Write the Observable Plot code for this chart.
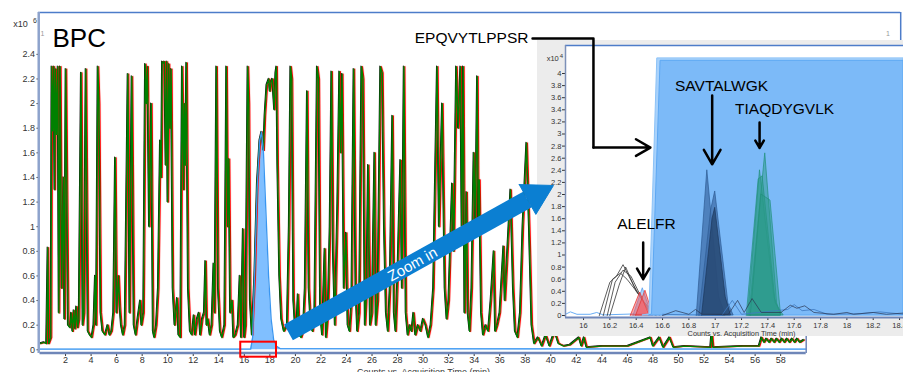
<!DOCTYPE html>
<html>
<head>
<meta charset="utf-8">
<script src="https://cdn.jsdelivr.net/npm/d3@7"></script>
<script src="https://cdn.jsdelivr.net/npm/@observablehq/plot@0.6"></script>
<style>
  html, body { margin: 0; padding: 0; background: white; }
  #wrap { position: relative; width: 903px; height: 372px; overflow: hidden; }
  #wrap svg { position: absolute; }
</style>
</head>
<body>
<div id="wrap"></div>
<script>
// ---------- DATA ----------
const mainXTicks = [2,4,6,8,10,12,14,16,18,20,22,24,26,28,30,32,34,36,38,40,42,44,46,48,50,52,54,56,58];
const mainYTicks = [0,0.2,0.4,0.6,0.8,1,1.2,1.4,1.6,1.8,2,2.2,2.4];
const insetXTicks = [16,16.2,16.4,16.6,16.8,17,17.2,17.4,17.6,17.8,18,18.2,18.4];
const insetYTicks = [0,0.2,0.4,0.6,0.8,1,1.2,1.4,1.6,1.8,2,2.2,2.4,2.6,2.8,3,3.2,3.4,3.6,3.8,4];

// BPC chromatogram (time min, counts x10^6)
const bpcPoints = [
[0,0.05],[0.3,0.06],[0.5,0.05],[0.61,0.83],[0.68,0.05],[0.85,0.1],[0.92,2.3],[1.0,1.78],[1.08,2.3],[1.15,1.3],[1.22,2.28],[1.3,1.75],[1.4,2.3],[1.48,0.3],[1.58,2.3],[1.7,0.5],[1.84,1.4],[1.92,0.25],[2.02,2.28],[2.2,0.2],[2.35,0.18],[2.45,0.3],[2.55,0.15],[2.65,0.32],[2.75,0.17],[2.85,0.35],[2.95,0.18],[3.05,0.25],[3.22,2.25],[3.35,0.2],[3.45,0.3],[3.59,2.28],[3.75,0.15],[3.9,0.12],[4.05,0.1],[4.2,0.2],[4.32,0.6],[4.4,0.2],[4.53,2.3],[4.62,2.0],[4.75,0.3],[4.9,0.15],[5.1,0.12],[5.3,0.2],[5.45,0.12],[5.6,0.15],[5.75,0.3],[5.89,1.56],[6.0,0.3],[6.15,0.6],[6.25,0.35],[6.35,0.2],[6.5,0.12],[6.65,0.2],[6.88,2.24],[7.02,0.3],[7.19,2.22],[7.35,0.2],[7.5,0.12],[7.65,0.25],[7.85,0.4],[7.95,0.2],[8.1,0.3],[8.24,2.32],[8.33,2.0],[8.42,2.3],[8.55,1.0],[8.71,2.0],[8.85,0.15],[8.95,0.1],[9.1,0.2],[9.25,0.5],[9.41,1.7],[9.5,1.4],[9.57,2.34],[9.67,2.33],[9.75,2.34],[9.85,1.5],[9.93,2.34],[10.0,1.2],[10.09,2.32],[10.18,1.8],[10.27,2.28],[10.4,0.5],[10.55,0.2],[10.74,0.42],[10.85,0.12],[11.0,0.1],[11.13,2.3],[11.25,1.3],[11.3,2.0],[11.38,1.5],[11.47,2.33],[11.6,0.5],[11.75,0.15],[11.9,0.12],[12.05,0.28],[12.15,0.12],[12.3,0.25],[12.45,0.3],[12.55,0.12],[12.7,0.25],[12.85,0.3],[12.96,0.72],[13.05,0.2],[13.15,0.25],[13.3,0.12],[13.45,0.2],[13.6,0.7],[13.68,0.3],[13.82,2.3],[13.95,0.5],[14.1,0.15],[14.25,0.1],[14.45,0.2],[14.6,2.3],[14.7,1.0],[14.79,1.55],[14.9,0.3],[15.05,0.4],[15.15,0.1],[15.3,0.12],[15.5,0.2],[15.65,0.6],[15.75,0.1],[15.9,0.98],[16.0,0.1],[16.1,0.2],[16.27,2.3],[16.35,2.0],[16.45,0.4],[16.6,0.12],[16.8,0.6],[17.0,1.35],[17.2,1.7],[17.35,1.77],[17.5,1.62],[17.6,1.9],[17.75,2.15],[17.92,2.2],[18.0,2.1],[18.1,2.18],[18.2,2.2],[18.35,1.95],[18.45,2.25],[18.52,2.3],[18.6,1.5],[18.75,0.6],[18.9,0.25],[19.1,0.15],[19.35,0.2],[19.5,1.0],[19.62,2.3],[19.72,2.2],[19.85,0.4],[20.0,0.15],[20.1,0.2],[20.2,0.45],[20.3,0.12],[20.45,0.1],[20.6,0.15],[20.75,0.5],[20.92,2.1],[21.05,0.5],[21.2,0.2],[21.35,0.15],[21.5,0.3],[21.7,2.3],[21.82,2.2],[21.95,0.3],[22.1,0.12],[22.3,0.82],[22.4,0.1],[22.55,0.3],[22.7,1.0],[22.83,2.26],[22.95,0.8],[23.1,0.2],[23.3,1.2],[23.45,2.26],[23.55,1.6],[23.66,2.24],[23.8,0.5],[23.97,0.95],[24.1,0.2],[24.25,0.15],[24.4,0.4],[24.57,2.28],[24.72,0.5],[24.85,0.15],[25.0,0.3],[25.18,2.3],[25.3,2.2],[25.45,0.2],[25.58,0.5],[25.7,1.5],[25.85,0.2],[26.0,0.3],[26.2,1.6],[26.3,0.2],[26.45,0.4],[26.66,2.3],[26.8,2.25],[26.95,1.0],[27.1,0.3],[27.25,0.15],[27.4,0.5],[27.6,1.9],[27.72,0.3],[27.85,0.15],[28.0,0.6],[28.23,1.54],[28.35,0.5],[28.5,2.3],[28.65,0.3],[28.8,0.12],[28.95,0.2],[29.1,0.15],[29.25,0.3],[29.4,0.12],[29.6,0.2],[29.8,0.15],[30.0,0.25],[30.2,0.2],[30.4,0.1],[30.6,0.2],[30.8,0.5],[31.1,2.3],[31.25,1.0],[31.5,2.0],[31.7,0.5],[31.85,0.25],[32.0,0.4],[32.28,1.35],[32.4,0.8],[32.6,2.3],[32.75,1.8],[32.93,2.3],[33.03,1.0],[33.14,2.3],[33.25,0.3],[33.4,1.28],[33.5,0.3],[33.65,0.15],[33.8,0.5],[33.97,1.6],[34.1,1.0],[34.24,2.22],[34.32,1.0],[34.4,1.38],[34.55,0.3],[34.7,0.12],[34.9,0.2],[35.1,0.15],[35.3,0.4],[35.54,0.8],[35.65,0.15],[35.8,0.2],[36.0,0.3],[36.3,0.84],[36.4,0.4],[36.5,0.6],[36.85,1.3],[37.05,0.5],[37.2,0.15],[37.4,0.1],[37.6,0.3],[37.8,1.0],[38.1,1.68],[38.3,1.0],[38.5,0.2],[38.7,0.05],[39.0,0.1],[39.3,0.03],[39.6,0.12],[39.9,0.03],[40.3,0.15],[40.6,0.05],[41.0,0.03],[41.5,0.04],[42.2,0.1],[42.4,0.03],[42.6,0.1],[42.8,0.02],[44.0,0.03],[46.0,0.03],[47.8,0.1],[48.0,0.03],[48.5,0.1],[48.8,0.02],[49.3,0.1],[49.6,0.02],[50.5,0.03],[52.5,0.02],[52.6,0.15],[52.7,0.02],[55.0,0.03],[56.3,0.03],[56.5,0.1],[56.7,0.06],[56.9,0.09],[57.1,0.06],[57.3,0.09],[57.5,0.06],[57.7,0.09],[57.9,0.06],[58.1,0.09],[58.3,0.06],[58.5,0.09],[58.7,0.06],[58.9,0.09],[59.1,0.06],[59.3,0.09],[59.5,0.06],[59.8,0.08]
];
// EPQVYTLPPSR extracted trace in the main chart
const epqMainPoints = [[0,0.005],[16.5,0.005],[16.65,0.1],[16.8,0.6],[17.0,1.3],[17.2,1.7],[17.35,1.77],[17.5,1.6],[17.7,1.1],[17.9,0.6],[18.1,0.25],[18.3,0.08],[18.5,0.03],[18.8,0.01],[60,0.005]];
const zoomBox = [{x1: 15.72, x2: 18.52, y1: -0.06, y2: 0.062}];

// Inset traces (time min, counts x10^4)
const epqInsetA = [[16.45,0],[16.5,0.02],[16.56,4.25],[18.43,4.25]];
const epqInsetB = [[16.5,0],[16.52,0.02],[16.585,4.21],[18.43,4.21]];
const baselineBlue = [[15.863,0.02],[15.9,0.06],[15.95,0.02],[16.05,0.02],[16.1,0.05],[16.15,0.01],[16.3,0.02],[16.45,0.03],[16.52,0.02]];
const blackTraces = [
  [[16.12,0],[16.2,0.55],[16.25,0.65],[16.3,0.84],[16.38,0.5],[16.5,0.05],[16.55,0]],
  [[16.15,0],[16.22,0.6],[16.28,0.7],[16.33,0.6],[16.42,0.35],[16.52,0]],
  [[16.18,0],[16.24,0.55],[16.3,0.75],[16.36,0.65],[16.45,0.25],[16.55,0]],
  [[16.2,0],[16.27,0.5],[16.32,0.8],[16.4,0.4],[16.5,0.1],[16.58,0]]
];
const alelfrRed = [
  [[16.36,0],[16.43,0.38],[16.5,0]],
  [[16.4,0],[16.47,0.41],[16.53,0]]
];
const alelfrBlue = [[16.38,0],[16.45,0.45],[16.52,0]];
const purplePeak = [[16.5,0],[16.57,0.15],[16.63,0]];
const savtalwgkMid = [
  [[16.86,0],[16.94,2.4],[17.03,0.3],[17.08,0]],
  [[16.88,0],[16.97,1.75],[17.0,2.05],[17.1,0.2],[17.14,0]]
];
const savtalwgkDark = [[16.9,0],[16.98,1.6],[17.0,1.78],[17.08,0.3],[17.12,0]];
const tiaqdygvlk = [
  [[17.26,0],[17.38,2.68],[17.47,0.2],[17.5,0]],
  [[17.25,0],[17.34,2.4],[17.45,0.3],[17.5,0]],
  [[17.24,0],[17.33,2.25],[17.36,2.3],[17.46,0.2],[17.52,0]],
  [[17.27,0],[17.35,2.0],[17.42,1.9],[17.5,0]]
];
const noiseDark = [[16.6,0],[16.7,0.08],[16.8,0.02],[16.85,0.1],[16.9,0.02],[17.1,0.02],[17.17,0.25],[17.22,0.05],[17.28,0.28],[17.35,0.05],[17.5,0.05],[17.57,0.17],[17.62,0.12],[17.68,0.16],[17.75,0.05],[17.9,0.02],[18.0,0.05],[18.05,0.02],[18.2,0.05],[18.3,0.02],[18.43,0.04]];
const noiseBlue = [[16.6,0.02],[17.05,0],[17.13,0.25],[17.2,0.02],[17.55,0.1],[17.6,0.18],[17.66,0.08],[17.75,0.1],[17.85,0.02],[18.1,0.03],[18.25,0.06],[18.43,0.02]];

// Annotations (in chart data units)
const zoomBand = [[19.46,0.141],[38.17,1.221]];
const zoomHead = [[37.53,1.342],[40.21,1.335],[38.83,1.10],[37.53,1.342]];
const epqPath = [[38.57,2.529],[43.34,2.529],[43.34,1.643]];
const epqArrow = [{x1: 43.34, y1: 1.643, x2: 47.8, y2: 1.643}];
const insetLabels = [
  {t: 17.048, v: 3.80, label: "SAVTALWGK"},
  {t: 17.527, v: 3.42, label: "TIAQDYGVLK"},
  {t: 16.478, v: 1.52, label: "ALELFR"}
];
const insetArrows = [
  {x1: 16.977, y1: 3.636, x2: 16.977, y2: 2.50},
  {x1: 17.337, y1: 3.19, x2: 17.337, y2: 2.77},
  {x1: 16.453, y1: 1.207, x2: 16.453, y2: 0.60}
];

// ---------- HELPERS ----------
const pts = a => a.map(([t, v]) => ({t, v}));
const fmt = d => String(Math.round(d * 10) / 10);
const FONT = "Liberation Sans, Arial, Helvetica, sans-serif";
const wrap = document.getElementById("wrap");
const place = (svg, left, top) => { svg.style.left = left + "px"; svg.style.top = top + "px"; wrap.appendChild(svg); };

const bpc = pts(bpcPoints);
const epqMain = pts(epqMainPoints);

const mainScales = {
  width: 903, height: 372,
  marginLeft: 39.5, marginRight: 97.3, marginTop: 12, marginBottom: 19
};

// ---------- MAIN CHART ----------
const main = Plot.plot({
  ...mainScales,
  style: {background: "white", fontFamily: FONT, fontSize: "9px", color: "#333", overflow: "visible"},
  x: {domain: [0, 60], ticks: mainXTicks, tickSize: 3, tickPadding: 0.5, label: null, tickFormat: fmt},
  y: {domain: [-0.03, 2.74], ticks: mainYTicks, tickSize: 3, tickPadding: 2, label: null, tickFormat: fmt},
  marks: [
    Plot.areaY(epqMain, {x: "t", y: "v", fill: "#80bfff"}),
    Plot.line(bpc, {x: "t", y: "v", stroke: "#ff7070", strokeWidth: 2.4, strokeOpacity: 0.25, dx: 1}),
    Plot.line(bpc, {x: "t", y: "v", stroke: "#111", strokeWidth: 1.1, dx: -0.6, dy: -0.6}),
    Plot.line(bpc, {x: "t", y: "v", stroke: "#ff0000", strokeWidth: 1.2, dx: 0.9}),
    Plot.line(bpc, {x: "t", y: "v", stroke: "#008000", strokeWidth: 1.4}),
    Plot.line(epqMain, {x: "t", y: "v", stroke: "#3a96f0", strokeWidth: 1.3}),
    // frame lines
    Plot.ruleY([-0.026], {x1: 0, x2: 60, stroke: "#6f86b8", strokeWidth: 2.5}),
    Plot.ruleY([2.74], {x1: -0.12, x2: 67.4, stroke: "#4d7cc9", strokeWidth: 1.5}),
    Plot.ruleX([-0.1], {y1: -0.03, y2: 2.74, stroke: "#8da3cc", strokeWidth: 2.5}),
    Plot.ruleX([60], {y1: -0.03, y2: 2.51, stroke: "#6f86b8", strokeWidth: 1.5}),
    Plot.ruleX([67.4], {y1: 2.5, y2: 2.74, stroke: "#4d7cc9", strokeWidth: 1.5}),
    Plot.rect(zoomBox, {x1: "x1", x2: "x2", y1: "y1", y2: "y2", fill: "none", stroke: "#ff0000", strokeWidth: 2}),
    Plot.text(["BPC"], {x: 0.98, y: 2.53, text: d => d, textAnchor: "start", fontSize: 26, fill: "#000"}),
    Plot.text(["x10"], {x: -2.1, y: 2.643, text: d => d, textAnchor: "start", fontSize: 9, fill: "#333"}),
    Plot.text(["6"], {x: -0.55, y: 2.675, text: d => d, textAnchor: "start", fontSize: 7, fill: "#333"}),
    Plot.text(["1"], {x: 0.2, y: 2.57, text: d => d, fontSize: 7, fill: "#999"}),
    Plot.text(["1"], {x: 66.4, y: 2.57, text: d => d, fontSize: 7, fill: "#999"}),
    Plot.text(["Counts vs. Acquisition Time (min)"], {x: 30.03, y: -0.178, text: d => d, fontSize: 9, fill: "#333"})
  ]
});
place(main, 0, 0);

// ---------- INSET ----------
const lineSet = (arr, opts) => arr.map(a => Plot.line(pts(a), {x: "t", y: "v", ...opts}));
const areaSet = (arr, opts) => arr.map(a => Plot.areaY(pts(a), {x: "t", y: "v", ...opts}));

const inset = Plot.plot({
  width: 366, height: 296,
  marginLeft: 28, marginRight: 0, marginTop: 5, marginBottom: 19,
  style: {background: "#ececec", fontFamily: FONT, fontSize: "7.5px", color: "#333", overflow: "visible"},
  x: {domain: [15.863, 18.43], ticks: insetXTicks, tickSize: 3, tickPadding: 2, label: null, tickFormat: fmt},
  y: {domain: [-0.033, 4.463], ticks: insetYTicks, tickSize: 3, tickPadding: 1, label: null, tickFormat: fmt},
  marks: [
    Plot.frame({fill: "white", stroke: "none"}),
    Plot.line(pts(baselineBlue), {x: "t", y: "v", stroke: "#6aaef5", strokeWidth: 1}),
    ...lineSet(blackTraces, {stroke: "#333", strokeWidth: 0.8}),
    Plot.areaY(pts(alelfrBlue), {x: "t", y: "v", fill: "#8ec3f7", fillOpacity: 0.7, stroke: "#5aa0ee", strokeWidth: 0.8}),
    ...areaSet(alelfrRed, {fill: "#ff4d4d", fillOpacity: 0.5, stroke: "#e23a3a", strokeWidth: 0.8}),
    Plot.areaY(pts(purplePeak), {x: "t", y: "v", fill: "#9a7fae", fillOpacity: 0.5, stroke: "#8a70a0", strokeWidth: 0.7}),
    Plot.areaY(pts(epqInsetA), {x: "t", y: "v", fill: "#a9d2fb", stroke: "#8cc2f7", strokeWidth: 1, clip: true}),
    Plot.areaY(pts(epqInsetB), {x: "t", y: "v", fill: "#7cbaf8", stroke: "#5da8f3", strokeWidth: 1, clip: true}),
    ...areaSet(savtalwgkMid, {fill: "#3f6ea9", fillOpacity: 0.75, stroke: "#2e5b93", strokeWidth: 0.7}),
    Plot.areaY(pts(savtalwgkDark), {x: "t", y: "v", fill: "#26466f", fillOpacity: 0.8, stroke: "#1d3a5e", strokeWidth: 0.7}),
    ...areaSet(tiaqdygvlk, {fill: "#2a9a88", fillOpacity: 0.5, stroke: "#23907c", strokeWidth: 0.7}),
    Plot.line(pts(noiseBlue), {x: "t", y: "v", stroke: "#3d78c0", strokeWidth: 0.8}),
    Plot.line(pts(noiseDark), {x: "t", y: "v", stroke: "#2a3550", strokeWidth: 0.7}),
    Plot.ruleY([4.463], {stroke: "#4d7cc9", strokeWidth: 1.5}),
    Plot.ruleX([15.863], {stroke: "#7c90b8", strokeWidth: 1.5}),
    Plot.ruleY([-0.033], {stroke: "#6f86b8", strokeWidth: 2}),
    Plot.text(["x10"], {x: 15.72, y: 4.24, text: d => d, textAnchor: "start", fontSize: 7.5, fill: "#333"}),
    Plot.text(["4"], {x: 15.82, y: 4.29, text: d => d, textAnchor: "start", fontSize: 6, fill: "#333"}),
    Plot.text(["Counts vs. Acquisition Time (min)"], {x: 17.2, y: -0.3, text: d => d, fontSize: 7.3, fill: "#333"}),
    Plot.text(insetLabels, {x: "t", y: "v", text: "label", fontSize: 15.5, fill: "#000"}),
    Plot.arrow(insetArrows, {x1: "x1", y1: "y1", x2: "x2", y2: "y2", stroke: "#000", strokeWidth: 2.5, headLength: 10})
  ]
});
place(inset, 537, 40);

// ---------- OVERLAY (annotations spanning both panels) ----------
const overlay = Plot.plot({
  ...mainScales,
  style: {background: "transparent", fontFamily: FONT, overflow: "visible"},
  x: {domain: [0, 60], axis: null},
  y: {domain: [-0.03, 2.74], axis: null},
  marks: [
    Plot.line(pts(zoomBand), {x: "t", y: "v", stroke: "#0b7fd2", strokeWidth: 18, strokeLinecap: "butt"}),
    Plot.line(pts(zoomHead), {x: "t", y: "v", fill: "#0b7fd2", stroke: "#0b7fd2", strokeWidth: 1}),
    Plot.text(["Zoom in"], {x: 29.17, y: 0.693, text: d => d, rotate: -29, fontSize: 15, fill: "white"}),
    Plot.text(["EPQVYTLPPSR"], {x: 38.25, y: 2.529, text: d => d, textAnchor: "end", fontSize: 15.5, fill: "#000"}),
    Plot.line(pts(epqPath), {x: "t", y: "v", stroke: "#000", strokeWidth: 2.5}),
    Plot.arrow(epqArrow, {x1: "x1", y1: "y1", x2: "x2", y2: "y2", stroke: "#000", strokeWidth: 2.5, headLength: 10})
  ]
});
overlay.style.pointerEvents = "none";
place(overlay, 0, 0);
</script>
</body>
</html>
